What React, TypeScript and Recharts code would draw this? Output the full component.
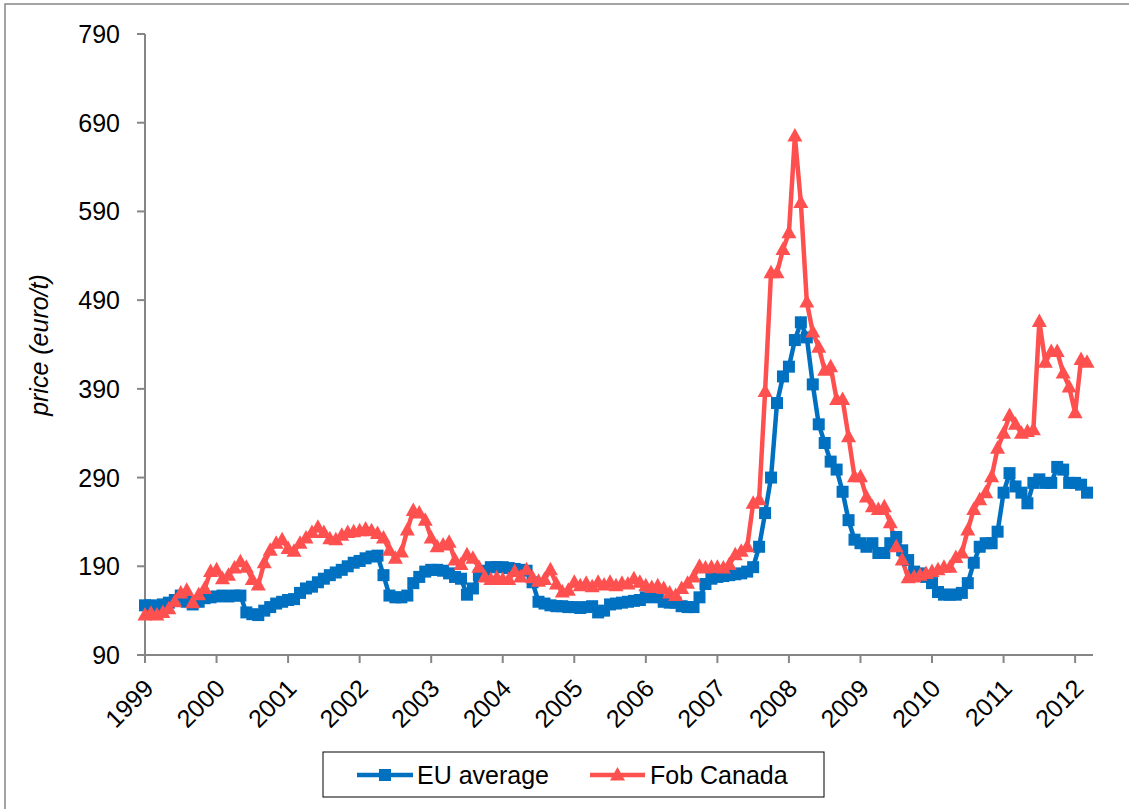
import { LineChart, Line, XAxis, YAxis } from 'recharts';

// monthly prices, Jan 1999 .. Mar 2012 (euro/t)
const startYear = 1999;

const euAverage = [
  146, 146, 143, 147, 149, 152, 157, 150, 147, 150, 154, 155, // 1999
  156, 157, 156, 157, 157, 138, 136, 135, 140, 144, 148, 150, // 2000
  152, 153, 160, 165, 167, 172, 176, 180, 183, 186, 190, 194, // 2001
  196, 199, 201, 202, 180, 157, 155, 155, 157, 171, 178, 184, // 2002
  186, 186, 185, 182, 178, 176, 158, 165, 180, 185, 189, 189, // 2003
  189, 188, 187, 186, 185, 172, 150, 148, 146, 145, 145, 144, // 2004
  144, 143, 144, 145, 138, 140, 147, 148, 149, 150, 151, 152, // 2005
  155, 156, 155, 150, 149, 149, 145, 144, 144, 155, 170, 176, // 2006
  178, 179, 180, 181, 182, 184, 189, 212, 250, 290, 374, 404, // 2007
  415, 445, 465, 448, 395, 350, 329, 308, 299, 274, 242, 220, // 2008
  216, 212, 216, 205, 205, 216, 223, 208, 197, 184, 182, 178, // 2009
  171, 161, 158, 158, 158, 160, 171, 194, 212, 216, 216, 229, // 2010
  273, 295, 280, 273, 261, 284, 288, 284, 284, 302, 299, 284, // 2011
  284, 282, 273, // 2012
];

const fobCanada = [
  135, 137, 135, 138, 142, 150, 160, 163, 149, 158, 165, 184, // 1999
  186, 176, 180, 188, 195, 189, 175, 169, 194, 208, 216, 220, // 2000
  210, 207, 216, 222, 228, 234, 228, 221, 220, 225, 228, 229, // 2001
  230, 232, 230, 227, 222, 208, 199, 206, 231, 253, 250, 242, // 2002
  222, 212, 214, 217, 197, 192, 203, 199, 189, 178, 175, 177, // 2003
  175, 175, 184, 178, 186, 177, 173, 175, 186, 170, 161, 163, // 2004
  172, 168, 171, 167, 172, 169, 172, 168, 171, 170, 176, 172, // 2005
  168, 166, 168, 165, 160, 157, 165, 171, 178, 190, 188, 189, // 2006
  189, 188, 192, 203, 207, 212, 261, 265, 387, 521, 521, 547, // 2007
  566, 675, 600, 488, 454, 437, 411, 415, 378, 378, 336, 291, // 2008
  291, 268, 257, 254, 257, 239, 212, 197, 177, 178, 180, 182, // 2009
  184, 186, 189, 189, 200, 205, 231, 254, 265, 273, 291, 323, // 2010
  340, 360, 350, 340, 342, 344, 466, 420, 432, 432, 408, 392, // 2011
  363, 423, 420, // 2012
];

const yearTicks = [
  1999, 2000, 2001, 2002, 2003, 2004, 2005,
  2006, 2007, 2008, 2009, 2010, 2011, 2012,
];
const priceTicks = [90, 190, 290, 390, 490, 590, 690, 790];

const BLUE = '#0070C0';
const RED = '#FF5050';
const AXIS = '#868686';
const FONT = '"Liberation Sans", Arial, sans-serif';

const data = euAverage.map((eu, i) => ({
  t: startYear + i / 12,
  eu,
  fob: fobCanada[i],
}));

const SquareDot = (p: any) => (
  <rect
    key={`sq-${p.index}`}
    x={p.cx - 6}
    y={p.cy - 6}
    width={12}
    height={12}
    fill={BLUE}
  />
);

const TriDot = (p: any) => (
  <polygon
    key={`tr-${p.index}`}
    points={`${p.cx},${p.cy - 8} ${p.cx + 7.5},${p.cy + 5.5} ${p.cx - 7.5},${p.cy + 5.5}`}
    fill={RED}
  />
);

const XTick = (p: any) => (
  <text
    transform={`translate(${p.x + 10},${p.y + 25}) rotate(-45)`}
    textAnchor="end"
    fontSize={25}
    fontFamily={FONT}
    fill="#000"
  >
    {p.payload.value}
  </text>
);

const YTick = (p: any) => (
  <text
    x={p.x - 15}
    y={p.y}
    dy="0.36em"
    textAnchor="end"
    fontSize={25}
    fontFamily={FONT}
    fill="#000"
  >
    {p.payload.value}
  </text>
);

export default function App() {
  return (
    <div
      style={{
        position: 'absolute',
        left: 0,
        top: 0,
        width: 1129,
        height: 809,
        background: '#fff',
        overflow: 'hidden',
      }}
    >
      <LineChart
        width={1129}
        height={809}
        data={data}
        margin={{ top: 34, right: 36, left: 85, bottom: 94 }}
      >
        <XAxis
          type="number"
          dataKey="t"
          domain={[1999, 2012.25]}
          ticks={yearTicks}
          interval={0}
          height={60}
          axisLine={{ stroke: AXIS, strokeWidth: 2 }}
          tickLine={{ stroke: AXIS, strokeWidth: 2 }}
          tickSize={8}
          tick={<XTick />}
        />
        <YAxis
          type="number"
          domain={[90, 790]}
          ticks={priceTicks}
          interval={0}
          width={60}
          axisLine={{ stroke: AXIS, strokeWidth: 2 }}
          tickLine={{ stroke: AXIS, strokeWidth: 2 }}
          tickSize={8}
          tick={<YTick />}
        />
        <Line
          dataKey="eu"
          stroke={BLUE}
          strokeWidth={4.5}
          dot={SquareDot}
          isAnimationActive={false}
        />
        <Line
          dataKey="fob"
          stroke={RED}
          strokeWidth={4.5}
          dot={TriDot}
          isAnimationActive={false}
        />
      </LineChart>

      {/* frame, axis title, legend */}
      <svg
        width={1129}
        height={809}
        style={{ position: 'absolute', left: 0, top: 0, pointerEvents: 'none' }}
      >
        <polyline
          points="5,809 5,4 1129,4"
          fill="none"
          stroke={AXIS}
          strokeWidth={1.5}
        />
        <text
          transform="translate(48,345) rotate(-90)"
          textAnchor="middle"
          fontSize={25}
          fontStyle="italic"
          fontFamily={FONT}
        >
          price (euro/t)
        </text>

        <rect x={323} y={752} width={501} height={45} fill="#fff" stroke="#000" strokeWidth={1} />
        <line x1={357} y1={775} x2={413} y2={775} stroke={BLUE} strokeWidth={4.5} />
        <rect x={379} y={769} width={12} height={12} fill={BLUE} />
        <text x={417} y={784} fontSize={25} fontFamily={FONT}>EU average</text>
        <line x1={590} y1={775} x2={645} y2={775} stroke={RED} strokeWidth={4.5} />
        <polygon points="617.5,767 625,780.5 610,780.5" fill={RED} />
        <text x={650} y={784} fontSize={25} fontFamily={FONT}>Fob Canada</text>
      </svg>
    </div>
  );
}
